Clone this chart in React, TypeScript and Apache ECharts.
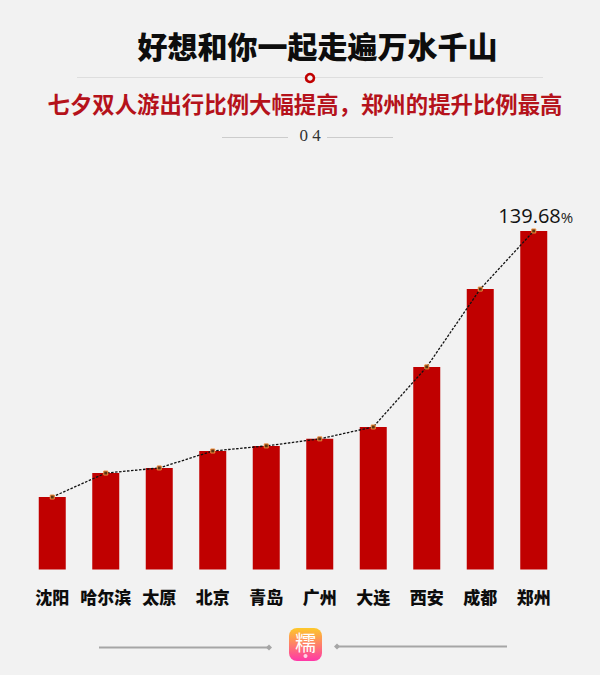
import React, { useEffect, useRef } from "react";
import * as echarts from "echarts";

const categories = ["沈阳", "哈尔滨", "太原", "北京", "青岛", "广州", "大连", "西安", "成都", "郑州"];
const values = [29.9, 39.8, 41.9, 48.9, 51.0, 53.9, 58.8, 83.6, 115.7, 139.68];
const titleText = "好想和你一起走遍万水千山";
const subtitleText = "七夕双人游出行比例大幅提高\uFF0C郑州的提升比例最高";
const pageText = "0 4";
const CJK = '"Noto Sans CJK SC", sans-serif';

export default function App() {
  const ref = useRef<HTMLDivElement>(null);
  useEffect(() => {
    const chart = echarts.init(ref.current!, null, { renderer: "svg" });
    const last = values.length - 1;
    const gray = "#a6a6a6";
    chart.setOption({
      animation: false,
      backgroundColor: "#f2f2f2",
      grid: { left: 25.5, width: 535, top: 230.2, height: 339.3 },
      xAxis: {
        type: "category",
        data: categories,
        axisLine: { show: false },
        axisTick: { show: false },
        axisLabel: {
          interval: 0,
          margin: 18,
          fontFamily: CJK,
          fontWeight: 900,
          fontSize: 17,
          color: "#0d0d0d",
        },
      },
      yAxis: { type: "value", min: 0, max: 140, show: false },
      series: [
        {
          type: "bar",
          data: values,
          barWidth: 27,
          itemStyle: { color: "#c00000" },
          z: 2,
        },
        {
          type: "line",
          data: values.map((v, i) =>
            i === last
              ? {
                  value: v,
                  label: {
                    show: true,
                    position: "top",
                    distance: 3,
                    offset: [2, 0],
                    formatter: "{a|" + v.toFixed(2) + "}{b|%}",
                    rich: {
                      a: { fontFamily: '"Open Sans", sans-serif', fontSize: 20, color: "#111111" },
                      b: { fontFamily: '"Open Sans", sans-serif', fontSize: 15, color: "#222222", padding: [3, 0, 0, 0] },
                    },
                  },
                }
              : v
          ),
          symbol: "rect",
          symbolSize: 4,
          showSymbol: true,
          lineStyle: { color: "#111111", width: 1.3, type: [2.5, 1.5] },
          itemStyle: { color: "#5b3312", borderColor: "#f08c3c", borderWidth: 1 },
          z: 3,
        },
      ],
      graphic: [
        { type: "text", x: 317.5, y: 45, style: { text: titleText, fontFamily: CJK, fontWeight: 900, fontSize: 30, fill: "#0d0d0d", align: "center", verticalAlign: "middle" } },
        { type: "line", shape: { x1: 77, y1: 77.5, x2: 543, y2: 77.5 }, style: { stroke: "#dedede", lineWidth: 1 } },
        { type: "circle", shape: { cx: 310, cy: 78, r: 4 }, style: { fill: "#f2f2f2", stroke: "#c00000", lineWidth: 2.6 } },
        { type: "text", x: 305, y: 102.5, style: { text: subtitleText, fontFamily: CJK, fontWeight: "bold", fontSize: 22.4, fill: "#b5121b", align: "center", verticalAlign: "middle" } },
        { type: "line", shape: { x1: 222, y1: 137.5, x2: 288, y2: 137.5 }, style: { stroke: "#cccccc", lineWidth: 1 } },
        { type: "line", shape: { x1: 327, y1: 137.5, x2: 393, y2: 137.5 }, style: { stroke: "#cccccc", lineWidth: 1 } },
        { type: "text", x: 310, y: 135, style: { text: pageText, fontFamily: '"Liberation Serif", serif', fontSize: 17, fill: "#333333", align: "center", verticalAlign: "middle" } },
        {
          type: "rect",
          shape: { x: 289, y: 628, width: 33, height: 33, r: 8 },
          style: {
            fill: new echarts.graphic.LinearGradient(0, 0, 0, 1, [
              { offset: 0, color: "#fdc92a" },
              { offset: 1, color: "#ff37a8" },
            ]),
          },
        },
        { type: "text", x: 305.5, y: 641, style: { text: "糯", fontFamily: CJK, fontSize: 21, fill: "#ffffff", align: "center", verticalAlign: "middle" } },
        { type: "circle", shape: { cx: 305.5, cy: 656, r: 2 }, style: { fill: "rgba(255,255,255,0.75)" } },
        { type: "line", shape: { x1: 99, y1: 647.5, x2: 269, y2: 647.5 }, style: { stroke: gray, lineWidth: 2 } },
        { type: "polygon", shape: { points: [[266, 647.5], [269, 644.5], [272, 647.5], [269, 650.5]] }, style: { fill: gray } },
        { type: "line", shape: { x1: 337, y1: 646.5, x2: 507, y2: 646.5 }, style: { stroke: gray, lineWidth: 2 } },
        { type: "polygon", shape: { points: [[334, 646.5], [337, 643.5], [340, 646.5], [337, 649.5]] }, style: { fill: gray } },
      ],
    });
    return () => chart.dispose();
  }, []);
  return <div ref={ref} style={{ position: "fixed", left: 0, top: 0, width: 600, height: 675 }} />;
}
